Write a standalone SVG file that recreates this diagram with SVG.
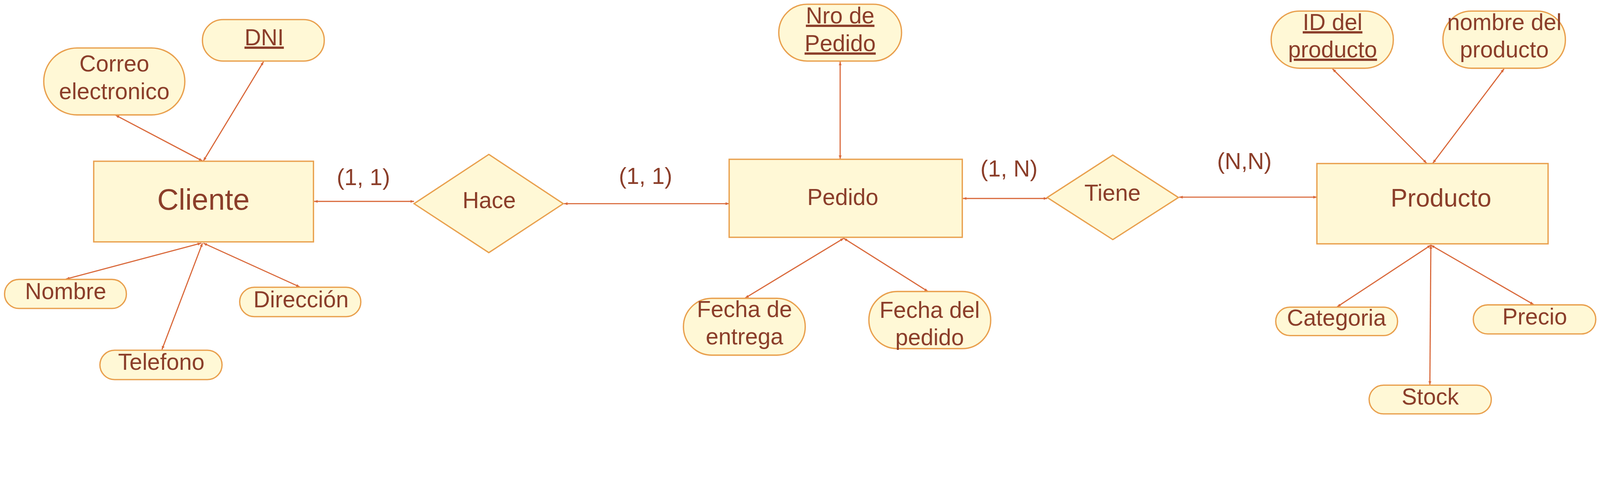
<svg xmlns="http://www.w3.org/2000/svg" width="4900" height="1283" viewBox="0 0 4900 1283" preserveAspectRatio="xMinYMin meet">
<style>
svg{max-width:100vw;max-height:100vh}
.ent{fill:#FFF8D6;stroke:#E9A04E;stroke-width:4}
.rel{fill:#FFF8D6;stroke:#E9A04E;stroke-width:4}
.att{fill:#FFF8D6;stroke:#E9A04E;stroke-width:4}
text{font-family:"Liberation Sans",Arial,sans-serif;fill:#8B3E2A;text-anchor:middle;font-size:70px}
.u{text-decoration:underline}
.conn line{stroke:#D9683A;stroke-width:3.5;fill:none;marker-start:url(#ah);marker-end:url(#ah)}
</style>
<defs>
<marker id="ah" viewBox="0 0 10 8" refX="10" refY="4" markerWidth="11" markerHeight="9" markerUnits="userSpaceOnUse" orient="auto-start-reverse">
<path d="M0,0 L10,4 L0,8 Z" fill="#D9683A"/>
</marker>
</defs>
<rect width="4900" height="1283" fill="#FFFFFF"/>
<g id="connectors" class="conn">
<line x1="1268" y1="617" x2="962" y2="617"/>
<line x1="1727" y1="624" x2="2233" y2="624"/>
<line x1="3207" y1="608" x2="2949" y2="608"/>
<line x1="3611" y1="604" x2="4033" y2="604"/>
<line x1="620" y1="493" x2="354" y2="353"/>
<line x1="623" y1="493" x2="807" y2="189"/>
<line x1="616" y1="745" x2="202" y2="855"/>
<line x1="620" y1="745" x2="496" y2="1071"/>
<line x1="623" y1="745" x2="918" y2="879"/>
<line x1="2573" y1="487" x2="2573" y2="189"/>
<line x1="2584" y1="730" x2="2282" y2="913"/>
<line x1="2584" y1="730" x2="2842" y2="893"/>
<line x1="4369" y1="500" x2="4081" y2="211"/>
<line x1="4388" y1="500" x2="4606" y2="211"/>
<line x1="4382" y1="751" x2="4095" y2="940"/>
<line x1="4382" y1="751" x2="4379" y2="1179"/>
<line x1="4382" y1="751" x2="4697" y2="933"/>
</g>
<g id="labels">
<text x="1113" y="567">(1, 1)</text>
<text x="1977" y="563">(1, 1)</text>
<text x="3090" y="541">(1, N)</text>
<text x="3811" y="518">(N,N)</text>
</g>
<g id="cliente">
<rect class="ent" x="287" y="494" width="673" height="247"/>
<text x="623" y="642" style="font-size:91px">Cliente</text>
</g>
<g id="hace">
<polygon class="rel" points="1497,473 1725,624 1497,774 1268,624"/>
<text x="1498" y="638">Hace</text>
</g>
<g id="pedido">
<rect class="ent" x="2233" y="488" width="714" height="239"/>
<text x="2581" y="628">Pedido</text>
</g>
<g id="tiene">
<polygon class="rel" points="3408,475 3609,605 3408,734 3207,605"/>
<text x="3407" y="615">Tiene</text>
</g>
<g id="producto">
<rect class="ent" x="4033" y="501" width="708" height="246"/>
<text x="4413" y="633" style="font-size:77px">Producto</text>
</g>
<g id="dni">
<rect class="att" x="620" y="60" width="373" height="127" rx="63" ry="63"/>
<text class="u" x="809" y="139">DNI</text>
</g>
<g id="correo">
<rect class="att" x="134" y="147" width="432" height="205" rx="102" ry="102"/>
<text x="350" y="219">Correo</text>
<text x="350" y="304">electronico</text>
</g>
<g id="nombre">
<rect class="att" x="14" y="856" width="373" height="89" rx="44" ry="44"/>
<text x="201" y="916">Nombre</text>
</g>
<g id="telefono">
<rect class="att" x="306" y="1073" width="374" height="90" rx="45" ry="45"/>
<text x="494" y="1133">Telefono</text>
</g>
<g id="direccion">
<rect class="att" x="734" y="880" width="371" height="90" rx="45" ry="45"/>
<text x="922" y="941">Dirección</text>
</g>
<g id="nro_pedido">
<rect class="att" x="2385" y="13" width="376" height="174" rx="87" ry="87"/>
<text class="u" x="2573" y="72">Nro de</text>
<text class="u" x="2573" y="157">Pedido</text>
</g>
<g id="fecha_entrega">
<rect class="att" x="2093" y="914" width="373" height="174" rx="87" ry="87"/>
<text x="2280" y="971">Fecha de</text>
<text x="2280" y="1055">entrega</text>
</g>
<g id="fecha_pedido">
<rect class="att" x="2661" y="893" width="373" height="175" rx="87" ry="87"/>
<text x="2847" y="974">Fecha del</text>
<text x="2847" y="1058">pedido</text>
</g>
<g id="id_producto">
<rect class="att" x="3893" y="34" width="374" height="175" rx="87" ry="87"/>
<text class="u" x="4081" y="92">ID del</text>
<text class="u" x="4081" y="176">producto</text>
</g>
<g id="nombre_producto">
<rect class="att" x="4419" y="34" width="375" height="175" rx="87" ry="87"/>
<text x="4607" y="92">nombre del</text>
<text x="4607" y="176">producto</text>
</g>
<g id="categoria">
<rect class="att" x="3907" y="941" width="373" height="87" rx="43" ry="43"/>
<text x="4093" y="998">Categoria</text>
</g>
<g id="precio">
<rect class="att" x="4512" y="934" width="375" height="89" rx="44" ry="44"/>
<text x="4700" y="994">Precio</text>
</g>
<g id="stock">
<rect class="att" x="4193" y="1180" width="374" height="88" rx="44" ry="44"/>
<text x="4380" y="1239">Stock</text>
</g>
</svg>
